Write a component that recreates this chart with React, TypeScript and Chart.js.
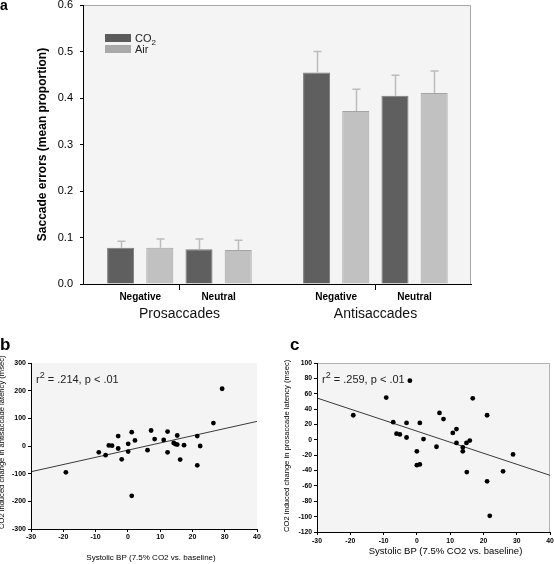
import React, { useEffect, useRef } from 'react';
import { Chart, registerables } from 'chart.js';

Chart.register(...registerables);

const FONT = "Arial, 'Liberation Sans', Helvetica, sans-serif";

// ---------- Panel a: saccade errors ----------
const conditionLabels = ['Negative', 'Neutral', 'Negative', 'Neutral'];
const conditionPositions = [0, 1, 2.5, 3.5];
const taskLabels = ['Prosaccades', 'Antisaccades'];
const taskCenters = [0.5, 3];
const seriesLabels = ['CO2', 'Air'];
const co2Means = [0.078, 0.075, 0.455, 0.405];
const co2Errors = [0.014, 0.022, 0.045, 0.044];
const airMeans = [0.078, 0.073, 0.372, 0.411];
const airErrors = [0.019, 0.021, 0.047, 0.047];

// ---------- Panel b: antisaccade latency vs systolic BP ----------
const bpChangeB = [-19.2, -9.0, -6.9, -5.9, -4.9, -3.0, -3.0, -1.9, 0.1, 0.1, 1.2, 1.2, 2.2, 6.1, 7.2, 8.3, 11.1, 12.3, 12.3, 14.2, 14.7, 15.3, 15.3, 16.2, 17.4, 21.5, 21.5, 22.4, 26.5, 29.2];
const antiLatencyChange = [-95, -23, -33, 2, 1, 36, -9, -48, 8, -20, 50, -180, 20, -15, 56, 25, 22, 52, -23, 11, 7, 5, 38, -49, 3, 36, -70, 0, 83, 207];
const fitXB = [-30, 40];
const fitYB = [-93, 89];
const statB = '.214, p < .01';

// ---------- Panel c: prosaccade latency vs systolic BP ----------
const bpChangeC = [-19.1, -9.2, -7.1, -6.1, -5.1, -3.1, -3.1, -2.1, 0, 0, 0.9, 0.9, 2.0, 5.9, 6.8, 8.0, 10.8, 11.9, 11.9, 13.8, 13.8, 14.9, 15.9, 15.0, 16.8, 21.1, 21.1, 21.9, 25.9, 28.9];
const proLatencyChange = [32, 55, 23, 8, 7, 22, 3, 77, -15, -33, -32, 22, 1, -9, 35, 27, 9, 14, -4, -10, -15, -4, -1, -42, 54, 32, -54, -99, -41, -19];
const fitXC = [-30, 40];
const fitYC = [54.4, -46.2];
const statC = '.259, p < .01';

const xTitleText = 'Systolic BP (7.5% CO2 vs. baseline)';

function bgPlugin(fill: string, frame?: string) {
  return {
    id: 'plotBg',
    beforeDraw(chart: any) {
      const { ctx, chartArea } = chart;
      const { left, top, right, bottom } = chartArea;
      ctx.save();
      ctx.fillStyle = fill;
      ctx.fillRect(left, top, right - left, bottom - top);
      if (frame) {
        ctx.strokeStyle = frame;
        ctx.lineWidth = 1;
        ctx.beginPath();
        ctx.moveTo(left, Math.round(top) + 0.5);
        ctx.lineTo(Math.round(right) - 0.5, Math.round(top) + 0.5);
        ctx.lineTo(Math.round(right) - 0.5, bottom);
        ctx.stroke();
      }
      ctx.restore();
    },
  };
}

const errorBarPlugin = {
  id: 'errorBars',
  afterDatasetsDraw(chart: any) {
    const { ctx } = chart;
    const yScale = chart.scales.y;
    ctx.save();
    ctx.strokeStyle = '#bcbcbc';
    ctx.lineWidth = 1.5;
    chart.data.datasets.forEach((ds: any, di: number) => {
      const errs = ds.errors;
      if (!errs) return;
      const meta = chart.getDatasetMeta(di);
      meta.data.forEach((el: any, i: number) => {
        const mean = ds.data[i].y;
        const yTop = yScale.getPixelForValue(mean + errs[i]);
        const x = Math.round(el.x) + 0.5;
        ctx.beginPath();
        ctx.moveTo(x, el.y);
        ctx.lineTo(x, yTop);
        ctx.moveTo(x - 4, yTop);
        ctx.lineTo(x + 4, yTop);
        ctx.stroke();
      });
    });
    ctx.restore();
  },
};

const panelADecor = {
  id: 'panelADecor',
  afterDraw(chart: any) {
    const { ctx, chartArea } = chart;
    const xScale = chart.scales.x;
    ctx.save();
    // separator ticks and task labels
    ctx.strokeStyle = '#000';
    ctx.lineWidth = 1;
    ctx.fillStyle = '#111';
    ctx.font = `14px ${FONT}`;
    ctx.textAlign = 'center';
    ctx.textBaseline = 'alphabetic';
    taskCenters.forEach((c, i) => {
      const px = Math.round(xScale.getPixelForValue(c)) + 0.5;
      ctx.beginPath();
      ctx.moveTo(px, chartArea.bottom);
      ctx.lineTo(px, chartArea.bottom + 6);
      ctx.stroke();
      ctx.fillText(taskLabels[i], px, chartArea.bottom + 34);
    });
    // legend
    const colors = ['#5b5b5b', '#a9a9a9'];
    const x0 = chartArea.left + 22;
    const y0 = chartArea.top + 29;
    ctx.textAlign = 'left';
    seriesLabels.forEach((lab, i) => {
      const sy = y0 + i * 11;
      ctx.fillStyle = colors[i];
      ctx.fillRect(x0, sy, 26, 8);
      ctx.fillStyle = '#222';
      const m = lab.match(/^(.*?)(\d)$/);
      ctx.font = `11px ${FONT}`;
      if (m) {
        ctx.fillText(m[1], x0 + 30, sy + 8);
        const w = ctx.measureText(m[1]).width;
        ctx.font = `8px ${FONT}`;
        ctx.fillText(m[2], x0 + 30 + w, sy + 11);
      } else {
        ctx.fillText(lab, x0 + 30, sy + 8);
      }
    });
    ctx.restore();
  },
};

function scatterDecor(stat: string, titleOffset: number, titleY: number, titleSize: number) {
  return {
    id: 'scatterDecor',
    afterDraw(chart: any) {
      const { ctx, chartArea } = chart;
      ctx.save();
      ctx.fillStyle = '#222';
      ctx.textAlign = 'left';
      ctx.textBaseline = 'alphabetic';
      const x = chartArea.left + 5;
      const y = chartArea.top + 19.5;
      ctx.font = `11px ${FONT}`;
      ctx.fillText('r', x, y);
      const wr = ctx.measureText('r').width;
      ctx.font = `9px ${FONT}`;
      ctx.fillText('2', x + wr, y - 5);
      const w2 = ctx.measureText('2').width;
      ctx.font = `11px ${FONT}`;
      ctx.fillText(' = ' + stat, x + wr + w2, y);
      // x axis title
      ctx.fillStyle = '#000';
      ctx.textAlign = 'center';
      ctx.textBaseline = 'middle';
      ctx.font = `${titleSize}px ${FONT}`;
      ctx.fillText(xTitleText, (chartArea.left + chartArea.right) / 2 + titleOffset, titleY);
      ctx.restore();
    },
  };
}

function barConfig(): any {
  return {
    type: 'bar',
    data: {
      datasets: [
        {
          label: seriesLabels[0],
          data: conditionPositions.map((x, i) => ({ x, y: co2Means[i] })),
          errors: co2Errors,
          backgroundColor: '#5f5f5f',
          borderColor: '#7a7a7a',
          borderWidth: 1,
          categoryPercentage: 1,
          barPercentage: 0.69,
        },
        {
          label: seriesLabels[1],
          data: conditionPositions.map((x, i) => ({ x, y: airMeans[i] })),
          errors: airErrors,
          backgroundColor: '#c1c1c1',
          borderColor: '#a4a4a4',
          borderWidth: 1,
          categoryPercentage: 1,
          barPercentage: 0.69,
        },
      ],
    },
    options: {
      responsive: false,
      animation: false,
      layout: { padding: { top: 5, right: 83, left: 0, bottom: 0 } },
      plugins: { legend: { display: false }, tooltip: { enabled: false } },
      scales: {
        x: {
          type: 'linear',
          min: -0.73,
          max: 4.22,
          offset: false,
          afterBuildTicks: (s: any) => {
            s.ticks = conditionPositions.map((v) => ({ value: v }));
          },
          afterFit: (s: any) => {
            s.height = 36;
            s.paddingLeft = 0;
            s.paddingRight = 0;
          },
          grid: { display: false, drawTicks: false, offset: false },
          border: { display: true, color: '#000', width: 1, z: 1 },
          ticks: {
            autoSkip: false,
            maxRotation: 0,
            padding: 7,
            color: '#000',
            font: { family: FONT, size: 10, weight: 'bold' },
            callback: (_v: any, i: number) => conditionLabels[i],
          },
        },
        y: {
          min: 0,
          max: 0.6,
          afterFit: (s: any) => {
            s.width = 83;
            s.paddingTop = 0;
            s.paddingBottom = 0;
          },
          grid: { drawOnChartArea: false, drawTicks: true, tickLength: 3, color: '#000' },
          border: { display: true, color: '#000', width: 1, z: 1 },
          ticks: {
            stepSize: 0.1,
            padding: 7,
            color: '#000',
            font: { family: FONT, size: 11 },
            callback: (v: any) => Number(v).toFixed(1),
          },
          title: {
            display: true,
            text: 'Saccade errors (mean proportion)',
            color: '#000',
            font: { family: FONT, size: 12, weight: 'bold' },
            padding: { top: 35, bottom: 0 },
          },
        },
      },
    },
    plugins: [bgPlugin('#f4f4f4', '#a8a8a8'), errorBarPlugin, panelADecor],
  };
}

function scatterConfig(p: any): any {
  return {
    type: 'scatter',
    data: {
      datasets: [
        {
          data: p.xs.map((x: number, i: number) => ({ x, y: p.ys[i] })),
          pointRadius: 2.4,
          pointBackgroundColor: '#000',
          pointBorderColor: '#000',
          pointBorderWidth: 0,
          showLine: false,
        },
        {
          data: p.fitX.map((x: number, i: number) => ({ x, y: p.fitY[i] })),
          showLine: true,
          pointRadius: 0,
          borderColor: '#3a3a3a',
          borderWidth: 1,
          fill: false,
        },
      ],
    },
    options: {
      responsive: false,
      animation: false,
      layout: { padding: { top: p.top, right: p.right, left: 0, bottom: 0 } },
      plugins: { legend: { display: false }, tooltip: { enabled: false } },
      scales: {
        x: {
          type: 'linear',
          min: -30,
          max: 40,
          afterFit: (s: any) => {
            s.height = p.xHeight;
            s.paddingLeft = 0;
            s.paddingRight = 0;
          },
          grid: { drawOnChartArea: false, drawTicks: true, tickLength: 3, color: '#000' },
          border: { display: true, color: '#000', width: 1, z: 1 },
          ticks: {
            stepSize: 10,
            padding: p.xPad,
            autoSkip: false,
            maxRotation: 0,
            color: '#000',
            font: { family: FONT, size: p.tickSize, weight: 'bold' },
          },
        },
        y: {
          min: p.yMin,
          max: p.yMax,
          afterFit: (s: any) => {
            s.width = p.yWidth;
            s.paddingTop = 0;
            s.paddingBottom = 0;
          },
          grid: { drawOnChartArea: false, drawTicks: true, tickLength: 3, color: '#000' },
          border: { display: true, color: '#000', width: 1, z: 1 },
          ticks: {
            stepSize: p.yStep,
            padding: 2,
            color: '#000',
            font: { family: FONT, size: p.tickSize, weight: 'bold' },
          },
          title: {
            display: true,
            text: p.yTitle,
            align: 'start',
            color: '#000',
            font: { family: FONT, size: p.yTitleSize },
            padding: { top: p.yTitlePad, bottom: 0 },
          },
        },
      },
    },
    plugins: [bgPlugin('#f4f4f4', p.frame), scatterDecor(p.stat, p.xTitleOffset, p.xTitleY, p.xTitleSize)],
  };
}

export default function App() {
  const refA = useRef<HTMLCanvasElement>(null);
  const refB = useRef<HTMLCanvasElement>(null);
  const refC = useRef<HTMLCanvasElement>(null);

  useEffect(() => {
    const a = new Chart(refA.current as HTMLCanvasElement, barConfig());
    const b = new Chart(
      refB.current as HTMLCanvasElement,
      scatterConfig({
        xs: bpChangeB,
        ys: antiLatencyChange,
        fitX: fitXB,
        fitY: fitYB,
        stat: statB,
        top: 43,
        right: 20,
        xHeight: 35,
        yWidth: 31,
        xPad: 1,
        tickSize: 7,
        yMin: -300,
        yMax: 300,
        yStep: 100,
        yTitle: 'CO2 induced change in antisaccade latency (msec)',
        yTitleSize: 7.6,
        yTitlePad: -2.5,
        xTitleOffset: 7,
        xTitleY: 238,
        xTitleSize: 8,
        frame: undefined,
      })
    );
    const c = new Chart(
      refC.current as HTMLCanvasElement,
      scatterConfig({
        xs: bpChangeC,
        ys: proLatencyChange,
        fitX: fitXC,
        fitY: fitYC,
        stat: statC,
        top: 43,
        right: 3,
        xHeight: 32,
        yWidth: 40,
        xPad: 2,
        tickSize: 6.8,
        yMin: -120,
        yMax: 100,
        yStep: 20,
        yTitle: 'CO2 induced change in prosaccade latency (msec)',
        yTitleSize: 7.6,
        yTitlePad: 5.5,
        xTitleOffset: 12,
        xTitleY: 231,
        xTitleSize: 9.5,
        frame: '#b4b4b4',
      })
    );
    return () => {
      a.destroy();
      b.destroy();
      c.destroy();
    };
  }, []);

  const letter = (t: string, left: number, top: number, size: number) => (
    <div
      style={{
        position: 'absolute',
        left,
        top,
        fontFamily: FONT,
        fontWeight: 'bold',
        fontSize: size,
        lineHeight: 1,
        color: '#000',
      }}
    >
      {t}
    </div>
  );

  return (
    <div style={{ position: 'absolute', left: 0, top: 0, width: 554, height: 564, background: '#fff', overflow: 'hidden' }}>
      <canvas ref={refA} width={554} height={320} style={{ position: 'absolute', left: 0, top: 0 }} />
      <canvas ref={refB} width={277} height={244} style={{ position: 'absolute', left: 0, top: 320 }} />
      <canvas ref={refC} width={277} height={244} style={{ position: 'absolute', left: 277, top: 320 }} />
      {letter('a', 0, -2, 14)}
      {letter('b', 0, 336, 17)}
      {letter('c', 290, 336, 17)}
    </div>
  );
}
